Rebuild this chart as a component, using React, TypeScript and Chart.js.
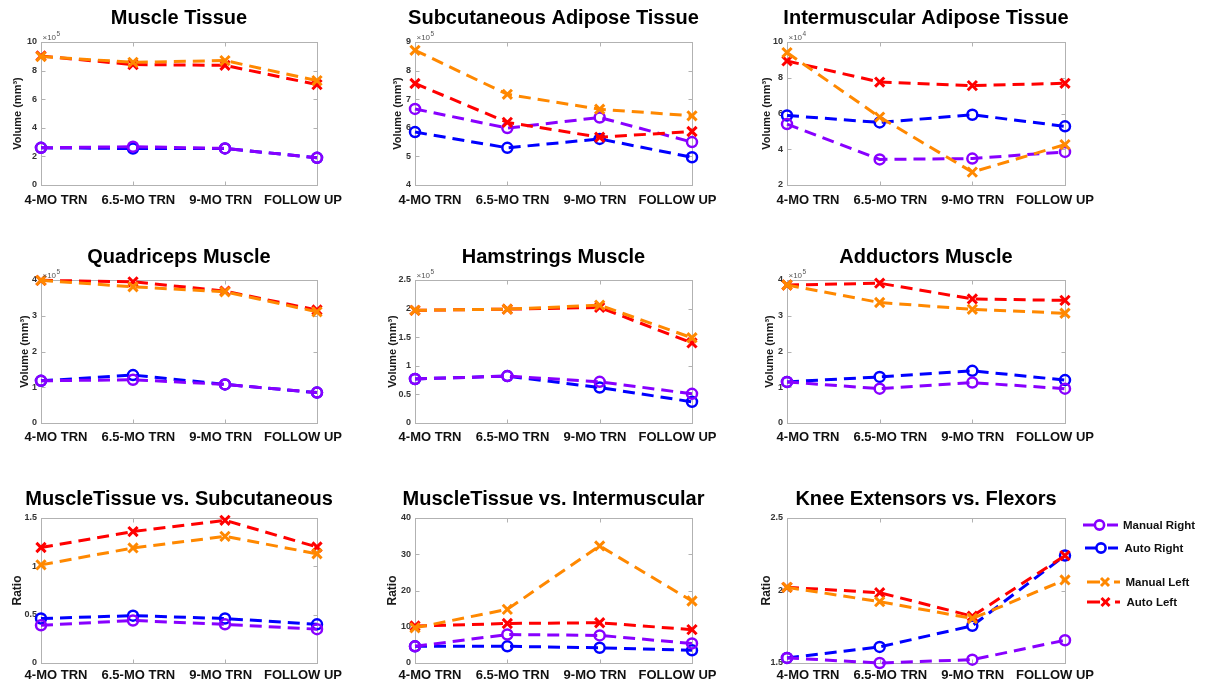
import React, { useEffect, useRef } from "react";
import { Chart, registerables } from "chart.js";

Chart.register(...registerables);

const FONT = '"Liberation Sans", Arial, Helvetica, sans-serif';
Chart.defaults.font.family = FONT;

// Time points shared by every panel
const timepoints = ["4-MO TRN", "6.5-MO TRN", "9-MO TRN", "FOLLOW UP"];

// Series names and colours (Manual Right, Auto Right, Manual Left, Auto Left)
const seriesLabels = ["Manual Right", "Auto Right", "Manual Left", "Auto Left"];
const seriesColors = ["#8800ff", "#0000ff", "#ff8800", "#ff0000"];

// Muscle tissue volume (x10^5 mm³)
const muscleManualRight = [2.6, 2.68, 2.56, 1.9];
const muscleAutoRight = [2.6, 2.55, 2.56, 1.9];
const muscleManualLeft = [8.98, 8.58, 8.7, 7.3];
const muscleAutoLeft = [9.02, 8.42, 8.37, 7.02];

// Subcutaneous adipose tissue volume (x10^5 mm³)
const subqManualRight = [6.66, 5.99, 6.36, 5.5];
const subqAutoRight = [5.85, 5.3, 5.61, 4.97];
const subqManualLeft = [8.71, 7.17, 6.65, 6.42];
const subqAutoLeft = [7.55, 6.19, 5.67, 5.87];

// Intermuscular adipose tissue volume (x10^4 mm³)
const imatManualRight = [5.41, 3.43, 3.48, 3.85];
const imatAutoRight = [5.89, 5.5, 5.93, 5.28];
const imatManualLeft = [9.41, 5.8, 2.72, 4.26];
const imatAutoLeft = [8.94, 7.76, 7.56, 7.69];

// Quadriceps volume (x10^5 mm³)
const quadManualRight = [1.18, 1.21, 1.08, 0.85];
const quadAutoRight = [1.18, 1.34, 1.08, 0.85];
const quadManualLeft = [3.99, 3.81, 3.67, 3.11];
const quadAutoLeft = [3.99, 3.95, 3.69, 3.16];

// Hamstrings volume (x10^5 mm³)
const hamManualRight = [0.77, 0.82, 0.72, 0.51];
const hamAutoRight = [0.77, 0.82, 0.62, 0.37];
const hamManualLeft = [1.97, 1.99, 2.06, 1.49];
const hamAutoLeft = [1.97, 1.99, 2.02, 1.4];

// Adductors volume (x10^5 mm³)
const addManualRight = [1.15, 0.96, 1.13, 0.96];
const addAutoRight = [1.15, 1.29, 1.46, 1.2];
const addManualLeft = [3.86, 3.37, 3.18, 3.07];
const addAutoLeft = [3.86, 3.91, 3.47, 3.43];

// Muscle tissue / subcutaneous ratio
const mtSubqManualRight = [0.39, 0.44, 0.4, 0.35];
const mtSubqAutoRight = [0.46, 0.49, 0.46, 0.4];
const mtSubqManualLeft = [1.015, 1.19, 1.31, 1.13];
const mtSubqAutoLeft = [1.195, 1.36, 1.476, 1.2];

// Muscle tissue / intermuscular ratio
const mtImatManualRight = [4.6, 7.85, 7.6, 5.4];
const mtImatAutoRight = [4.6, 4.6, 4.2, 3.5];
const mtImatManualLeft = [9.7, 14.8, 32.3, 17.1];
const mtImatAutoLeft = [10.2, 10.9, 11.1, 9.2];

// Knee extensors / flexors ratio
const kneeManualRight = [1.535, 1.5, 1.523, 1.657];
const kneeAutoRight = [1.535, 1.611, 1.757, 2.241];
const kneeManualLeft = [2.022, 1.923, 1.807, 2.073];
const kneeAutoLeft = [2.022, 1.985, 1.823, 2.241];

const VOLUME = "Volume (mm³)";
const RATIO = "Ratio";

type PanelSpec = {
  title: string;
  yTitle: string;
  yMin: number;
  yMax: number;
  yStep: number;
  exponent: number | null;
  values: number[][]; // manual right, auto right, manual left, auto left
};

const panels: PanelSpec[] = [
  { title: "Muscle Tissue", yTitle: VOLUME, yMin: 0, yMax: 10, yStep: 2, exponent: 5,
    values: [muscleManualRight, muscleAutoRight, muscleManualLeft, muscleAutoLeft] },
  { title: "Subcutaneous Adipose Tissue", yTitle: VOLUME, yMin: 4, yMax: 9, yStep: 1, exponent: 5,
    values: [subqManualRight, subqAutoRight, subqManualLeft, subqAutoLeft] },
  { title: "Intermuscular Adipose Tissue", yTitle: VOLUME, yMin: 2, yMax: 10, yStep: 2, exponent: 4,
    values: [imatManualRight, imatAutoRight, imatManualLeft, imatAutoLeft] },
  { title: "Quadriceps Muscle", yTitle: VOLUME, yMin: 0, yMax: 4, yStep: 1, exponent: 5,
    values: [quadManualRight, quadAutoRight, quadManualLeft, quadAutoLeft] },
  { title: "Hamstrings Muscle", yTitle: VOLUME, yMin: 0, yMax: 2.5, yStep: 0.5, exponent: 5,
    values: [hamManualRight, hamAutoRight, hamManualLeft, hamAutoLeft] },
  { title: "Adductors Muscle", yTitle: VOLUME, yMin: 0, yMax: 4, yStep: 1, exponent: 5,
    values: [addManualRight, addAutoRight, addManualLeft, addAutoLeft] },
  { title: "MuscleTissue vs. Subcutaneous", yTitle: RATIO, yMin: 0, yMax: 1.5, yStep: 0.5, exponent: null,
    values: [mtSubqManualRight, mtSubqAutoRight, mtSubqManualLeft, mtSubqAutoLeft] },
  { title: "MuscleTissue vs. Intermuscular", yTitle: RATIO, yMin: 0, yMax: 40, yStep: 10, exponent: null,
    values: [mtImatManualRight, mtImatAutoRight, mtImatManualLeft, mtImatAutoLeft] },
  { title: "Knee Extensors vs. Flexors", yTitle: RATIO, yMin: 1.5, yMax: 2.5, yStep: 0.5, exponent: null,
    values: [kneeManualRight, kneeAutoRight, kneeManualLeft, kneeAutoLeft] },
];

// Grid layout of the plot boxes
const plotCols = [
  { left: 41, right: 317, startInset: 15, endInset: 14 },
  { left: 415, right: 692, startInset: 15, endInset: 14.5 },
  { left: 787, right: 1065, startInset: 21, endInset: 10 },
];
const plotRows = [
  { top: 42, bottom: 185, titleGap: 24, labelGap: 15 },
  { top: 280, bottom: 423, titleGap: 23, labelGap: 14 },
  { top: 518, bottom: 663, titleGap: 19, labelGap: 12 },
];
const yTitleOffsets = [23, 17, 20, 16, 22, 17, 23, 22, 20];

const AXIS_W = 41;
const X_AXIS_H = 24;
const HEAD_ROOM = 16;
const FRAME_COLOR = "#b2b2b2";

// Draw order: manual left on top, then auto left, manual right, auto right
const drawOrder = [2, 3, 0, 1];

function PanelChart({ spec, index }: { spec: PanelSpec; index: number }) {
  const ref = useRef<HTMLCanvasElement>(null);
  const col = plotCols[index % 3];
  const row = plotRows[Math.floor(index / 3)];
  const canvasLeft = col.left - AXIS_W;
  const topSpace = row.titleGap + HEAD_ROOM;
  const canvasTop = row.top - topSpace;
  const width = col.right - col.left + AXIS_W * 2;
  const height = row.bottom - canvasTop + X_AXIS_H;

  useEffect(() => {
    const yTitleSize = spec.yTitle === RATIO ? 12 : 11;
    const yTitlePad = AXIS_W - yTitleOffsets[index] - (yTitleSize * 1.2) / 2;

    const datasets = drawOrder.map((s) => {
      const isRight = s < 2;
      return {
        label: seriesLabels[s],
        data: spec.values[s],
        borderColor: seriesColors[s],
        backgroundColor: "rgba(0,0,0,0)",
        borderWidth: 3,
        borderDash: [12, 7],
        tension: 0,
        fill: false,
        clip: false as const,
        pointStyle: isRight ? "circle" : "crossRot",
        pointRadius: isRight ? 5 : 6.5,
        pointBorderWidth: isRight ? 2.5 : 3,
        pointBorderColor: seriesColors[s],
        pointBackgroundColor: "rgba(0,0,0,0)",
      };
    });

    const framePlugin = {
      id: "frame",
      beforeDatasetsDraw(chart: any) {
        const { ctx, chartArea: a, scales } = chart;
        const L = Math.round(a.left) + 0.5;
        const R = Math.round(a.right) + 0.5;
        const T = Math.round(a.top) + 0.5;
        const B = Math.round(a.bottom) + 0.5;
        ctx.save();
        ctx.strokeStyle = FRAME_COLOR;
        ctx.lineWidth = 1;
        ctx.strokeRect(L, T, R - L, B - T);
        ctx.beginPath();
        scales.x.ticks.forEach((_: any, i: number) => {
          const x = Math.round(scales.x.getPixelForTick(i)) + 0.5;
          ctx.moveTo(x, B);
          ctx.lineTo(x, B - 4);
          ctx.moveTo(x, T);
          ctx.lineTo(x, T + 4);
        });
        scales.y.ticks.forEach((_: any, i: number) => {
          const y = Math.round(scales.y.getPixelForTick(i)) + 0.5;
          ctx.moveTo(L, y);
          ctx.lineTo(L + 4, y);
          ctx.moveTo(R, y);
          ctx.lineTo(R - 4, y);
        });
        ctx.stroke();
        ctx.restore();
      },
    };

    const textPlugin = {
      id: "panelText",
      afterDraw(chart: any) {
        const { ctx, chartArea: a } = chart;
        ctx.save();
        // panel title centred over the plot box
        ctx.font = `bold 20px ${FONT}`;
        ctx.fillStyle = "#000000";
        ctx.textAlign = "center";
        ctx.textBaseline = "middle";
        ctx.fillText(spec.title, (a.left + a.right) / 2, a.top - row.titleGap);
        // category labels below the plot box
        ctx.font = `bold 13px ${FONT}`;
        ctx.fillStyle = "#111111";
        const start = a.left + col.startInset;
        const end = a.right - col.endInset;
        const n = timepoints.length;
        timepoints.forEach((t, i) => {
          ctx.fillText(t, start + ((end - start) * i) / (n - 1), a.bottom + row.labelGap);
        });
        // power-of-ten multiplier above the y axis
        if (spec.exponent !== null) {
          ctx.fillStyle = "#555555";
          ctx.textAlign = "left";
          ctx.textBaseline = "alphabetic";
          ctx.font = `8px ${FONT}`;
          const base = "×10";
          ctx.fillText(base, a.left + 1.5, a.top - 2);
          const w = ctx.measureText(base).width;
          ctx.font = `6.5px ${FONT}`;
          ctx.fillText(String(spec.exponent), a.left + 2 + w, a.top - 6.5);
        }
        ctx.restore();
      },
    };

    const chart = new Chart(ref.current as HTMLCanvasElement, {
      type: "line",
      data: { labels: timepoints, datasets: datasets as any },
      options: {
        responsive: false,
        animation: false,
        devicePixelRatio: 1,
        events: [],
        layout: { autoPadding: false, padding: { left: 0, right: AXIS_W, top: topSpace, bottom: 0 } },
        plugins: {
          legend: { display: false },
          tooltip: { enabled: false },
          title: { display: false },
        },
        scales: {
          x: {
            type: "category",
            offset: false,
            grid: { display: false, drawTicks: false },
            border: { display: false },
            ticks: { display: false },
            afterFit: (s: any) => {
              s.height = X_AXIS_H;
            },
          },
          y: {
            type: "linear",
            min: spec.yMin,
            max: spec.yMax,
            grid: { display: false, drawTicks: false },
            border: { display: false },
            ticks: {
              stepSize: spec.yStep,
              padding: 4,
              color: "#333333",
              font: { size: 9, weight: "bold", family: FONT },
              callback: (v: any) => String(Number(Number(v).toFixed(4))),
            },
            title: {
              display: true,
              text: spec.yTitle,
              color: "#1a1a1a",
              font: { size: yTitleSize, weight: "bold", family: FONT, lineHeight: 1.2 },
              padding: { top: yTitlePad, bottom: 0 },
            },
            afterFit: (s: any) => {
              s.width = AXIS_W;
            },
          },
        },
      } as any,
      plugins: [framePlugin, textPlugin],
    });
    return () => chart.destroy();
  }, []);

  return (
    <canvas
      ref={ref}
      width={width}
      height={height}
      style={{ position: "absolute", left: canvasLeft, top: canvasTop, width, height }}
    />
  );
}

function Legend() {
  const rows = [
    { y: 20, pre: [8, 19], post: [32, 43], mx: 24.5, tx: 48 },
    { y: 43, pre: [10, 21], post: [33, 43], mx: 26, tx: 49.5 },
    { y: 77, pre: [12, 25], post: [39, 45], mx: 30, tx: 50.5 },
    { y: 97, pre: [12, 25], post: [40, 45], mx: 30.5, tx: 51.5 },
  ];
  return (
    <svg
      width={135}
      height={110}
      style={{ position: "absolute", left: 1075, top: 505, overflow: "visible" }}
    >
      {rows.map((r, i) => {
        const c = seriesColors[i];
        const isRight = i < 2;
        return (
          <g key={seriesLabels[i]}>
            <line x1={r.pre[0]} y1={r.y} x2={r.pre[1]} y2={r.y} stroke={c} strokeWidth={3} />
            <line x1={r.post[0]} y1={r.y} x2={r.post[1]} y2={r.y} stroke={c} strokeWidth={3} />
            {isRight ? (
              <circle cx={r.mx} cy={r.y} r={4.6} fill="none" stroke={c} strokeWidth={2.6} />
            ) : (
              <g stroke={c} strokeWidth={3}>
                <line x1={r.mx - 4} y1={r.y - 4} x2={r.mx + 4} y2={r.y + 4} />
                <line x1={r.mx - 4} y1={r.y + 4} x2={r.mx + 4} y2={r.y - 4} />
              </g>
            )}
            <text
              x={r.tx}
              y={r.y}
              dominantBaseline="central"
              fontFamily={FONT}
              fontWeight="bold"
              fontSize={11.5}
              fill="#111111"
            >
              {seriesLabels[i]}
            </text>
          </g>
        );
      })}
    </svg>
  );
}

export default function App() {
  return (
    <div
      style={{
        position: "absolute",
        left: 0,
        top: 0,
        width: 1210,
        height: 686,
        overflow: "hidden",
        background: "#ffffff",
      }}
    >
      {panels.map((p, i) => (
        <PanelChart key={p.title} spec={p} index={i} />
      ))}
      <Legend />
    </div>
  );
}
